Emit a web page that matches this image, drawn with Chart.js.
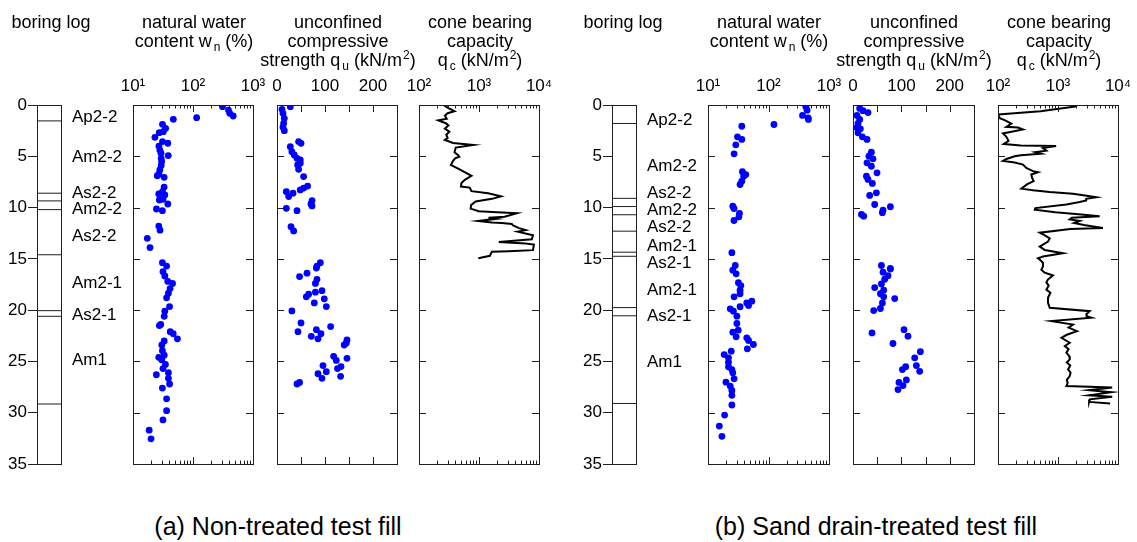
<!DOCTYPE html>
<html>
<head>
<meta charset="utf-8">
<script src="https://cdn.jsdelivr.net/npm/chart.js@4.4.1/dist/chart.umd.min.js"></script>
<style>
  body { margin: 0; background: #fff; font-family: "Liberation Sans", Arial, sans-serif; }
  #wrap { position: relative; width: 1137px; height: 542px; overflow: hidden; background: #fff; }
  canvas { position: absolute; top: 0; }
  .ttl { position: absolute; top: 13px; width: 240px; text-align: center; font-size: 18px; line-height: 19px; color: #000; white-space: nowrap; }
  .sub { font-size: 12px; vertical-align: -4px; line-height: 0; margin-left: 2px; }
  .sup { font-size: 12px; vertical-align: 7px; line-height: 0; margin-left: 1px; }
  .cap { position: absolute; top: 512px; width: 500px; text-align: center; font-size: 25px; color: #000; white-space: nowrap; }
</style>
</head>
<body>
<div id="wrap">
  <canvas id="logA"></canvas>
  <canvas id="wnA"></canvas>
  <canvas id="quA"></canvas>
  <canvas id="qcA"></canvas>
  <canvas id="logB"></canvas>
  <canvas id="wnB"></canvas>
  <canvas id="quB"></canvas>
  <canvas id="qcB"></canvas>

  <div class="ttl" style="left:-69px">boring log</div>
  <div class="ttl" style="left:74px">natural water<br>content w<span class="sub">n</span> (%)</div>
  <div class="ttl" style="left:218px">unconfined<br>compressive<br>strength q<span class="sub">u</span> (kN/m<span class="sup">2</span>)</div>
  <div class="ttl" style="left:360px">cone bearing<br>capacity<br>q<span class="sub">c</span> (kN/m<span class="sup">2</span>)</div>

  <div class="ttl" style="left:503px">boring log</div>
  <div class="ttl" style="left:649px">natural water<br>content w<span class="sub">n</span> (%)</div>
  <div class="ttl" style="left:794px">unconfined<br>compressive<br>strength q<span class="sub">u</span> (kN/m<span class="sup">2</span>)</div>
  <div class="ttl" style="left:939px">cone bearing<br>capacity<br>q<span class="sub">c</span> (kN/m<span class="sup">2</span>)</div>

  <div class="cap" style="left:28px">(a) Non-treated test fill</div>
  <div class="cap" style="left:626px">(b) Sand drain-treated test fill</div>
</div>

<script>
// ---- axes ----
const depthTicks = [0, 5, 10, 15, 20, 25, 30, 35]
const wnTicks = [10, 20, 30, 40, 50, 60, 70, 80, 90, 100, 200, 300, 400, 500, 600, 700, 800, 900, 1000]
const wnLabels = { 10: '10¹', 100: '10²', 1000: '10³' }
const quTicks = [0, 50, 100, 150, 200, 250]
const quLabels = { 0: '0', 100: '100', 200: '200' }
const qcTicks = [100, 200, 300, 400, 500, 600, 700, 800, 900, 1000, 2000, 3000, 4000, 5000, 6000, 7000, 8000, 9000, 10000]
const qcLabels = { 100: '10²', 1000: '10³', 10000: '10⁴' }

// ---- boring logs ----
const layerBoundsA = [1.55, 8.6, 9.35, 10.2, 14.6, 20.05, 20.6, 29.15]
const layerNamesA = ['Ap2-2', 'Am2-2', 'As2-2', 'Am2-2', 'As2-2', 'Am2-1', 'As2-1', 'Am1']
const layerLabelDepthA = [1.2, 5.1, 8.6, 10.2, 12.8, 17.4, 20.5, 24.9]

const layerBoundsB = [1.8, 9.1, 9.9, 10.7, 12.3, 14.35, 14.75, 19.75, 20.55, 29.1]
const layerNamesB = ['Ap2-2', 'Am2-2', 'As2-2', 'Am2-2', 'As2-2', 'Am2-1', 'As2-1', 'Am2-1', 'As2-1', 'Am1']
const layerLabelDepthB = [1.5, 6.0, 8.6, 10.3, 11.9, 13.75, 15.45, 18.1, 20.6, 25.1]

// ---- (a) non-treated ----
const wnDepthA = [0.16, 0.49, 0.81, 1.07, 1.4, 1.24, 1.88, 2.27, 2.6, 2.7, 3.15, 3.57, 3.73, 4.0, 4.39, 4.7, 4.93, 5.2,
  5.52, 5.9, 6.33, 6.73, 7.05, 6.9, 8.0, 8.45, 8.77, 8.67, 9.26, 9.2, 9.65, 10.14, 10.3, 11.8, 12.2, 13.0, 13.9,
  15.37, 15.7, 16.25, 16.67, 17.2, 17.4, 17.9, 18.35, 18.8, 19.65, 20.1, 20.6, 21.4, 21.5, 22.1, 22.3, 22.8, 23.0,
  23.4, 23.95, 24.4, 24.6, 24.85, 25.3, 25.7, 26.1, 26.3, 26.65, 27.2, 27.6, 28.65, 29.8, 30.7, 31.7, 32.55]
const wnA = [310, 390, 410, 467, 47, 115, 31, 35, 32, 27.4, 23.2, 31, 38, 27, 28, 29.3, 38.7, 29.5,
  30, 29.5, 28, 27, 33, 25.4, 33, 31, 33.9, 26.9, 27.5, 31.6, 38, 24.6, 30.9, 26.9, 28.2, 17.3, 19.2,
  30.9, 36.3, 31.6, 33.9, 38, 45.6, 41.5, 38.9, 36.3, 40.7, 33.9, 33.1, 29, 27.5, 41.7, 46.8, 55, 33.1,
  30.2, 30.9, 33.1, 26.9, 30.2, 34.7, 31.6, 38.9, 24.5, 38.9, 40.7, 30.9, 36.3, 36.3, 31.6, 18.6, 20]

const quDepthA = [0.42, 0.16, 0.81, 1.3, 1.78, 2.17, 2.5, 4.06, 3.74, 3.57, 4.55, 4.87, 5.2, 5.36, 5.85, 5.68, 6.27,
  6.98, 8.28, 7.9, 8.1, 8.45, 8.6, 8.93, 9.32, 9.65, 9.84, 10.07, 10.3, 11.86, 12.28,
  15.37, 15.7, 15.9, 16.73, 16.4, 17.0, 17.4, 18.7, 18.45, 18.25, 18.1, 18.9, 19.3, 19.65, 20.08, 21.25, 22.1,
  21.9, 22.3, 22.55, 22.8, 21.6, 22.9, 23.2, 23.4, 24.5, 24.9, 24.7, 25.4, 26.0, 26.2, 26.65, 25.7, 25.5, 26.45,
  27.2, 27.05]
const quA = [10.4, 27.7, 12.5, 15.2, 13.9, 12.5, 15.2, 27.7, 50, 45, 31, 36, 41.7, 48.5, 43, 48.5, 45,
  55.5, 48.5, 63.8, 55.5, 19.4, 33.3, 24.3, 73, 70.8, 73, 19.4, 41.7, 29.2, 34.7,
  90.3, 83.3, 82, 47, 62.5, 83.3, 80, 61, 65.9, 80, 93.7, 98.5, 77.7, 102.7, 31, 50, 43.7,
  82, 91.6, 71.5, 85.4, 111.7, 145.8, 144.4, 140, 118, 123.5, 145.8, 95.8, 102.7, 85.4, 93.7, 126, 133.3, 132.5,
  41.7, 47]

const qcDepthA = [0, 0.3, 0.6, 0.8, 1.05, 1.35, 1.5, 1.8, 2.0, 2.3, 2.6, 2.9, 3.2, 3.4, 3.7, 3.9, 4.15, 4.6, 4.9,
  5.05, 5.2, 5.5, 5.85, 6.2, 6.9, 7.3, 7.6, 7.95, 8.05, 8.4, 8.6, 8.9, 9.15, 9.4, 9.75, 10.1, 10.35, 10.45, 10.55,
  10.9, 11.0, 11.1, 11.3, 11.45, 11.5, 11.6, 11.75, 12.0, 12.2, 12.35, 12.7, 13.1, 13.35, 13.5, 13.6, 14.15, 14.25,
  14.3, 14.7, 14.95]
const qcA = [255, 310, 390, 300, 270, 290, 210, 285, 310, 270, 320, 285, 300, 270, 370, 810, 410, 390, 450,
  470, 400, 365, 340, 450, 750, 580, 510, 500, 700, 750, 1420, 2330, 1650, 880, 740, 725, 990, 2000, 4300,
  2670, 1440, 1930, 975, 1640, 2410, 3520, 3700, 4650, 5990, 4410, 7940, 7590, 2140, 5990, 8220, 7940, 3110,
  1640, 1520, 975]

// ---- (b) sand drain-treated ----
const wnDepthB = [0.18, 0.5, 1.02, 1.25, 1.41, 1.9, 2.07, 3.1, 3.36, 3.88, 4.76, 6.51, 6.78, 6.94, 7.43, 7.75, 9.87,
  10.09, 10.58, 10.9, 11.26, 14.4, 15.65, 16.1, 16.46, 17.33, 17.6, 18.06, 18.4, 18.7, 19.13, 19.3, 19.55, 19.67,
  19.87, 20.1, 20.59, 21.3, 21.95, 22.15, 22.6, 22.7, 22.96, 23.35, 23.77, 24.0, 24.33, 24.65, 25.07, 25.52,
  25.79, 26.11, 26.7, 27.02, 27.4, 27.83, 28.3, 29.25, 30.23, 31.3, 32.3]
const wnB = [414, 434, 365, 452, 457, 123, 36.2, 30.7, 36.2, 28.8, 27, 37.1, 42.2, 38.9, 36.2, 33.9, 25.7,
  26.9, 33.1, 32.4, 26.9, 24.8, 28.2, 25.7, 29.2, 31.8, 34.9, 33.9, 33.9, 27, 53, 43.7,
  46.8, 33.9, 23.3, 26.3, 30, 30, 31.6, 25.7, 29.2, 43.7, 46.8, 56.2, 44.7, 24.2, 18.5, 21.8, 21.8, 21.8,
  24.8, 25.7, 27, 19.8, 23.3, 24.8, 24.8, 24.8, 18.8, 15.4, 17]

const quDepthB = [0.33, 0.55, 0.74, 1.02, 1.41, 1.8, 2.22, 2.32, 2.71, 3.1, 3.36, 4.6, 4.99, 5.25, 5.64, 5.97, 6.61,
  6.94, 7.26, 7.65, 8.56, 8.82, 9.7, 9.92, 10.25, 10.5, 10.67, 10.84, 15.65, 15.92, 16.0, 16.3, 16.64, 16.99,
  17.45, 17.8, 18.06, 18.4, 18.7, 18.87, 19.3, 19.84, 20.04, 22.22, 21.9, 22.54, 23.25, 24.05, 24.65, 25.4,
  25.96, 25.52, 25.79, 26.8, 27.05, 27.35, 27.74]
const quB = [13.8, 20.7, 31, 8.3, 13.8, 10.3, 8.3, 15.2, 10.3, 19.4, 28.9, 38, 33, 41.3, 28.9, 38, 49.6,
  27.7, 31, 40, 48.3, 34.5, 44.8, 77.2, 62, 60.7, 17.4, 22.1, 58.7, 77.2, 77.2, 62, 72.3, 65.5,
  58.7, 44.8, 63.4, 56.6, 63.4, 86.2, 60.7, 56.6, 42.8, 39.3, 105.4, 113.6, 82.6, 139.2, 127.5, 131,
  137.8, 108.9, 102, 110.3, 95, 103.3, 93]

const qcDepthB = [0.12, 0.6, 0.93, 1.29, 1.48, 1.81, 2.13, 2.19, 2.39, 2.77, 3.1, 3.5, 3.8, 3.95, 4.0, 4.2, 4.45,
  4.6, 4.75, 4.9, 5.0, 5.26, 5.45, 5.61, 5.81, 6.13, 6.45, 6.55, 6.77, 7.1, 7.42, 7.74, 8.16, 8.32, 8.48, 8.65,
  8.85, 9.0, 9.15, 9.3, 9.45, 9.7, 10.05, 10.2, 10.45, 10.65, 10.84, 11.0, 11.15, 11.3, 11.5, 11.7, 12.0, 12.1,
  12.45, 12.6, 13.0, 13.32, 13.8, 14.13, 14.45, 14.77, 14.94, 15.06, 15.38, 15.74, 16.06, 16.35, 16.62, 17.0,
  17.3, 17.6, 18.0, 18.3, 18.8, 19.28, 19.77, 20.1, 20.4, 20.6, 20.74, 21.07, 21.4, 21.7, 22.05, 22.4, 22.7,
  23.18, 23.5, 23.8, 24.15, 24.5, 24.8, 25.1, 25.4, 25.78, 26.1, 26.43, 26.8, 27.1, 27.4, 27.55, 27.8, 28.0,
  28.3, 28.45, 28.7, 28.95, 29.1]
const qcB = [2080, 510, 100, 107, 129, 167, 138, 215, 261, 121, 138, 150, 125, 240, 930, 560, 640,
  420, 520, 240, 190, 138, 121, 190, 261, 296, 383, 464, 359, 370, 393, 304, 245, 383, 727, 1780,
  3000, 4350, 2950, 2950, 2300, 1380, 420, 410, 900, 2200, 4950, 1700, 1570, 2300, 1850, 2700, 5600, 1600,
  500, 560, 727, 681, 495, 600, 1210, 562, 464, 495, 560, 562, 528, 600, 826, 681,
  640, 700, 640, 747, 681, 681, 728, 3370, 2970, 3000, 3600, 776, 1780, 1500, 2070, 1400, 1140,
  1570, 1300, 1500, 1380, 1550, 1570, 1400, 1600, 1470, 1620, 1570, 1400, 1450, 1380, 8000, 3300, 7700,
  3300, 8000, 3400, 3300, 7400]

const FONT = '"Liberation Sans", Arial, sans-serif'
Chart.defaults.font.family = FONT
Chart.defaults.color = '#000'

const plotTop = 105
const plotBottom = 464
const canvasH = 500
const padTop = 60

// frame + inward ticks, using the chart's own scales
const framePlugin = {
  id: 'frame',
  afterDraw(chart, args, opts) {
    const { ctx, chartArea: a, scales } = chart
    ctx.save()
    ctx.strokeStyle = '#1e1e1e'
    ctx.lineWidth = 1
    ctx.strokeRect(a.left + 0.5, a.top + 0.5, a.width, a.height)
    const seg = (x1, y1, x2, y2) => {
      ctx.beginPath()
      ctx.moveTo(x1, y1)
      ctx.lineTo(x2, y2)
      ctx.stroke()
    }
    if (opts.xTicks) {
      opts.xTicks.forEach((v) => {
        const px = Math.round(scales.x.getPixelForValue(v)) + 0.5
        if (px <= a.left + 2 || px >= a.right - 1) return
        const len = opts.bigTicks.includes(v) ? 7 : 3.5
        seg(px, a.top, px, a.top + len)
        seg(px, a.bottom, px, a.bottom - len)
      })
      depthTicks.forEach((d) => {
        const py = Math.round(scales.y.getPixelForValue(d)) + 0.5
        if (py <= a.top + 2 || py >= a.bottom - 1) return
        seg(a.left, py, a.left + 7, py)
        seg(a.right, py, a.right - 7, py)
      })
    }
    if (opts.names) {
      ctx.fillStyle = '#000'
      ctx.font = '17px ' + FONT
      ctx.textBaseline = 'middle'
      ctx.textAlign = 'left'
      opts.names.forEach((n, i) => {
        ctx.fillText(n, a.right + 11, scales.y.getPixelForValue(opts.depths[i]))
      })
    }
    ctx.restore()
  }
}
Chart.register(framePlugin)

function logChart(id, left, right, bounds, names, depths) {
  const cv = document.getElementById(id)
  cv.style.left = (left - 37) + 'px'
  cv.width = 37 + (right - left) + 80
  cv.height = canvasH
  return new Chart(cv, {
    type: 'scatter',
    data: {
      datasets: bounds.map((d) => ({
        data: [{ x: 0, y: d }, { x: 1, y: d }],
        showLine: true, borderColor: '#1e1e1e', borderWidth: 1, pointRadius: 0
      }))
    },
    options: {
      responsive: false, animation: false, events: [],
      layout: { padding: { left: 0, right: 80, top: plotTop, bottom: canvasH - plotBottom } },
      plugins: { legend: { display: false }, tooltip: { enabled: false }, frame: { names, depths } },
      scales: {
        x: { type: 'linear', display: false, min: 0, max: 1 },
        y: {
          type: 'linear', reverse: true, min: 0, max: 35, position: 'left',
          afterBuildTicks: (s) => { s.ticks = depthTicks.map((v) => ({ value: v })) },
          grid: { drawOnChartArea: false, drawTicks: true, tickLength: 9, color: '#1e1e1e', lineWidth: 1 },
          border: { display: false },
          ticks: { autoSkip: false, padding: 1, font: { size: 17 }, color: '#000' },
          afterFit: (s) => { s.width = 37 }
        }
      }
    }
  })
}

function plotChart(id, left, right, xType, xMin, xMax, xTicks, xLabels, bigTicks, dataset) {
  const cv = document.getElementById(id)
  cv.style.left = (left - 40) + 'px'
  cv.width = right - left + 80
  cv.height = canvasH
  return new Chart(cv, {
    type: 'scatter',
    data: { datasets: [dataset] },
    options: {
      responsive: false, animation: false, events: [],
      layout: { padding: { left: 40, right: 40, top: padTop, bottom: canvasH - plotBottom } },
      plugins: { legend: { display: false }, tooltip: { enabled: false }, frame: { xTicks, bigTicks } },
      scales: {
        x: {
          type: xType, position: 'top', min: xMin, max: xMax,
          afterBuildTicks: (s) => { s.ticks = xTicks.map((v) => ({ value: v })) },
          grid: { display: false, drawTicks: false },
          border: { display: false },
          ticks: {
            autoSkip: false, maxRotation: 0, padding: 8, font: { size: 17 }, color: '#000',
            callback: (v) => xLabels[v] || ''
          },
          afterFit: (s) => { s.height = plotTop - padTop; s.paddingLeft = 0; s.paddingRight = 0 }
        },
        y: { type: 'linear', display: false, reverse: true, min: 0, max: 35 }
      }
    }
  })
}

function dots(values, depths) {
  return {
    data: values.map((v, i) => ({ x: v, y: depths[i] })),
    pointRadius: 3.4, pointBackgroundColor: '#0000ff', pointBorderWidth: 0, showLine: false
  }
}

function curve(values, depths) {
  return {
    data: values.map((v, i) => ({ x: v, y: depths[i] })),
    showLine: true, borderColor: '#000', borderWidth: 2, pointRadius: 0, tension: 0
  }
}

const decades = [10, 100, 1000, 10000]

logChart('logA', 37, 61, layerBoundsA, layerNamesA, layerLabelDepthA)
plotChart('wnA', 133, 253, 'logarithmic', 10, 1000, wnTicks, wnLabels, decades, dots(wnA, wnDepthA))
plotChart('quA', 277, 397, 'linear', 0, 250, quTicks, quLabels, quTicks, dots(quA, quDepthA))
plotChart('qcA', 419, 539, 'logarithmic', 100, 10000, qcTicks, qcLabels, decades, curve(qcA, qcDepthA))

logChart('logB', 612, 636, layerBoundsB, layerNamesB, layerLabelDepthB)
plotChart('wnB', 708, 829, 'logarithmic', 10, 1000, wnTicks, wnLabels, decades, dots(wnB, wnDepthB))
plotChart('quB', 853, 974, 'linear', 0, 250, quTicks, quLabels, quTicks, dots(quB, quDepthB))
plotChart('qcB', 998, 1118, 'logarithmic', 100, 10000, qcTicks, qcLabels, decades, curve(qcB, qcDepthB))
</script>
</body>
</html>
